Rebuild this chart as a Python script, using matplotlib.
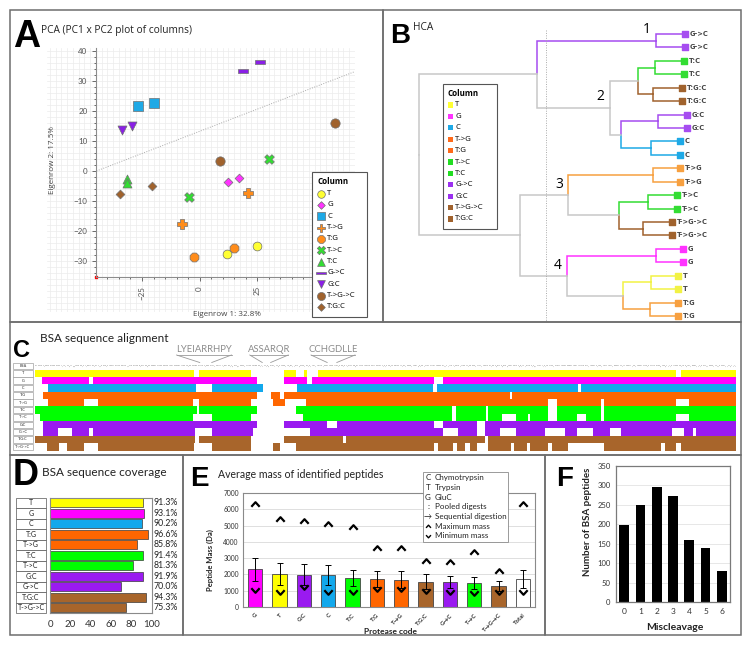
import numpy as np
import matplotlib.pyplot as plt
import matplotlib.transforms as mtransforms
from matplotlib.patches import Rectangle
from matplotlib.path import Path
from matplotlib.ticker import FixedLocator

plt.rcParams['font.family'] = ['Lato', 'DejaVu Sans']

# ---------------- data ----------------
groups = ['T', 'G', 'C', 'T->G', 'T:G', 'T->C', 'T:C', 'G->C', 'G:C', 'T->G->C', 'T:G:C']

# A: PCA scores (two replicate columns per digest)
pca_group = ['T', 'T', 'G', 'G', 'C', 'C', 'T->G', 'T->G', 'T:G', 'T:G', 'T->C', 'T->C',
             'T:C', 'T:C', 'G->C', 'G->C', 'G:C', 'G:C', 'T->G->C', 'T->G->C', 'T:G:C', 'T:G:C']
pca_x = [12.1, 25.1, 12.6, 17.0, -26.9, -19.6, 21.1, -7.4, -2.6, 15.0, 30.3, -4.6,
         -31.7, -31.6, 18.9, 26.4, -33.9, -29.3, 8.9, 58.9, -34.7, -20.6]
pca_y = [-27.6, -24.9, -3.5, -2.4, 21.6, 22.8, -7.2, -17.5, -28.5, -25.7, 3.9, -8.7,
         -2.8, -3.9, 33.4, 36.4, 13.6, 15.1, 3.4, 16.1, -7.5, -4.9]
trend_x0 = -44.8
trend_slope = 0.295

# B: HCA dendrogram (leaves top to bottom, merges like a linkage matrix)
leaf_order = ['G->C', 'G->C', 'T:C', 'T:C', 'T:G:C', 'T:G:C', 'G:C', 'G:C', 'C', 'C',
              'T->G', 'T->G', 'T->C', 'T->C', 'T->G->C', 'T->G->C', 'G', 'G', 'T', 'T', 'T:G', 'T:G']
merge_a = [0, 2, 4, 23, 6, 8, 26, 25, 22, 10, 12, 14, 32, 31, 16, 18, 20, 37, 36, 35, 30]
merge_b = [1, 3, 5, 24, 7, 9, 27, 28, 29, 11, 13, 15, 33, 34, 17, 19, 21, 38, 39, 40, 41]
merge_h = [0.126, 0.128, 0.135, 0.193, 0.117, 0.145, 0.256, 0.296, 0.566, 0.138, 0.154,
           0.172, 0.261, 0.452, 0.126, 0.145, 0.148, 0.249, 0.456, 0.628, 1.0]
leaf_tip = {'G->C': 0.018, 'T:C': 0.022, 'T:G:C': 0.031, 'G:C': 0.012, 'C': 0.037,
            'T->G': 0.037, 'T->C': 0.049, 'T->G->C': 0.066, 'G': 0.025, 'T': 0.043, 'T:G': 0.043}
cut_height = 0.533
cluster_names = ['1', '2', '3', '4']
cluster_d = [0.16, 0.332, 0.484, 0.489]
cluster_i = [-0.35, 4.67, 11.19, 17.27]

# C: sequence alignment (covered residue ranges of mature BSA, 583 aa)
bsa_seq = ("DTHKSEIAHRFKDLGEEHFKGLVLIAFSQYLQQCPFDEHVKLVNELTEFAKTCVADESHAGCEKSLHTLFGDELCKVASLRETYGDMADCC"
           "EKQEPERNECFLSHKDDSPDLPKLKPDPNTLCDEFKADEKKFWGKYLYEIARRHPYFYAPELLYYANKYNGVFQECCQAEDKGACLLPKIET"
           "MREKVLASSARQRLRCASIQKFGERALKAWSVARLSQKFPKAEFVEVTKLVTDLTKVHKECCHGDLLECADDRADLAKYICDNQDTISSKLKE"
           "CCDKPLLEKSHCIAEVEKDAIPENLPPLTADFAEDKDVCKNYQEAKDAFLGSFLYEYSRRHPEYAVSVLLRLAKEYEATLEECCAKDDPHACY"
           "STVFDKLKHLVDEPQNLIKQNCDQFEKLGEYGFQNALIVRYTRKVPQVSTPTLVEVSRSLGKVGTRCCTKPESERMPCTEDYLSLILNRLCVL"
           "HEKTPVSEKVTKCCTESLVNRRPCFSALTPDETYVPKAFDEKLFTFHADICTLPDTEKQIKKQTALVELLKHKPKATEEQLKTVMENFVAFVD"
           "KCCAADDKEACFAVEGPKLVVSTQTALA")
seq_len = 583
peptides = ['LYEIARRHPY', 'ASSARQR', 'CCHGDLLE']
peptide_label_x = [204, 269, 333]

cov_T = [(0, 132), (136, 180), (207, 217), (224, 226), (235, 533), (537, 583)]
cov_G = [(6, 45), (48, 185), (207, 226), (230, 332), (339, 583)]
cov_C = [(11, 134), (147, 190), (218, 331), (334, 452), (454, 583)]
cov_TG_pool = [(7, 185), (196, 204), (207, 395), (397, 583)]
cov_TG_seq = [(11, 41), (52, 131), (136, 180), (198, 208), (225, 427), (434, 471), (473, 533), (544, 583)]
cov_TC_pool = [(0, 135), (136, 185), (217, 347), (350, 375), (377, 427), (434, 471), (473, 583)]
cov_TC_seq = [(4, 131), (147, 180), (223, 347), (350, 375), (377, 388), (400, 410), (412, 427),
              (434, 451), (458, 471), (473, 533), (544, 583)]
cov_GC_pool = [(7, 185), (207, 243), (251, 332), (339, 368), (374, 583)]
cov_GC_seq = [(7, 19), (31, 45), (48, 133), (147, 181), (229, 339), (352, 368), (374, 387), (400, 424),
              (441, 451), (464, 478), (487, 530), (540, 547), (550, 583)]
cov_TGC_pool = [(0, 133), (136, 180), (207, 256), (259, 374), (377, 583)]
cov_TGC_seq = [(10, 20), (27, 41), (52, 132), (147, 180), (198, 204), (217, 332), (335, 348), (351, 358),
               (362, 368), (377, 396), (398, 409), (412, 427), (430, 443), (473, 521), (524, 533), (537, 583)]
align_rows = ['T', 'G', 'C', 'T:G', 'T->G', 'T:C', 'T->C', 'G:C', 'G->C', 'T:G:C', 'T->G->C']
align_cov = [cov_T, cov_G, cov_C, cov_TG_pool, cov_TG_seq, cov_TC_pool, cov_TC_seq,
             cov_GC_pool, cov_GC_seq, cov_TGC_pool, cov_TGC_seq]

# D: sequence coverage (%)
cov_labels = ['T', 'G', 'C', 'T:G', 'T->G', 'T:C', 'T->C', 'G:C', 'G->C', 'T:G:C', 'T->G->C']
cov_pct = [91.3, 93.1, 90.2, 96.6, 85.8, 91.4, 81.3, 91.9, 70.0, 94.3, 75.3]

# E: peptide mass (Da)
mass_groups = ['G', 'T', 'G:C', 'C', 'T:C', 'T:G', 'T->G', 'T:G:C', 'G->C', 'T->C', 'T->G->C', 'Total']
mass_mean = [2310, 2050, 1990, 1970, 1780, 1720, 1680, 1560, 1540, 1450, 1270, 1740]
mass_sd = [720, 670, 630, 610, 510, 490, 510, 465, 385, 370, 305, 550]
mass_max = [6300, 5380, 5280, 5070, 4910, 3620, 3620, 2800, 2760, 3370, 2210, 6300]
mass_min = [1060, 920, 1230, 920, 920, 1120, 1120, 980, 920, 880, 920, 920]

# F: miscleavages
miscleavage = [0, 1, 2, 3, 4, 5, 6]
n_peptides = [197, 249, 296, 274, 160, 139, 81]

# ---------------- colours ----------------
colA = {'T': '#ffff33', 'G': '#ff33ff', 'C': '#1ea9e6', 'T->G': '#ff8c1a', 'T:G': '#ff8c1a',
        'T->C': '#33dd33', 'T:C': '#33dd33', 'G->C': '#8a1fe6', 'G:C': '#8a1fe6',
        'T->G->C': '#a0622d', 'T:G:C': '#a0622d'}
legB = dict(colA, **{'T->G': '#ff6a1a', 'T:G': '#ff6a1a', 'G->C': '#9b30f0', 'G:C': '#9b30f0',
                     'T->C': '#22dd22', 'T:C': '#22dd22'})
treeB = dict(colA, **{'T->G': '#f7a040', 'T:G': '#f7a040', 'G->C': '#a64df0', 'G:C': '#a64df0',
                      'T': '#f2f244'})
colE = {'T': '#ffff00', 'G': '#ff00ff', 'C': '#12a8ec', 'T->G': '#ff6600', 'T:G': '#ff6600',
        'T->C': '#00ff00', 'T:C': '#00ff00', 'G->C': '#9a1af0', 'G:C': '#9a1af0',
        'T->G->C': '#a8652b', 'T:G:C': '#a8652b', 'Total': '#ffffff'}
bar_marker = [(-1, -0.28), (1, -0.28), (1, 0.28), (-1, 0.28), (-1, -0.28)]
styleA = {'T': ('o', 40), 'G': ('D', 20), 'C': ('s', 42), 'T->G': ('P', 50), 'T:G': ('8', 48),
          'T->C': ('X', 48), 'T:C': ('^', 42), 'G->C': (bar_marker, 60), 'G:C': ('v', 42),
          'T->G->C': ('o', 45), 'T:G:C': ('D', 20)}

# ---------------- figure ----------------
W, H = 750.0, 646.0
fig = plt.figure(figsize=(7.5, 6.46), dpi=100)


def rect(x0, y0, x1, y1):
    return [x0 / W, 1 - y1 / H, (x1 - x0) / W, (y1 - y0) / H]


canvas = fig.add_axes([0, 0, 1, 1], zorder=10)
canvas.set_xlim(0, W)
canvas.set_ylim(H, 0)
canvas.set_axis_off()

for x0, y0, x1, y1 in [(10, 10, 383, 322), (383, 10, 741, 322), (10, 322, 741, 455),
                       (10, 455, 183, 635), (183, 455, 545, 635), (545, 455, 741, 635)]:
    canvas.add_patch(Rectangle((x0, y0), x1 - x0, y1 - y0, fill=False, ec='#6e6e6e', lw=1.1))


def letter(x, y, s, size):
    canvas.text(x, y, s, fontsize=size, fontweight='bold', family='Liberation Sans',
                va='baseline', ha='left')


# ---- A: PCA ----
axA = fig.add_axes(rect(47, 48, 355, 312))
axA.set_xlim(-66.3, 67.6)
axA.set_ylim(-47, 41)
for v in np.arange(-65, 67.6, 2.5):
    axA.axvline(v, color='#ececec', lw=0.5, zorder=0)
for v in np.arange(-46, 41.1, 2):
    axA.axhline(v, color='#ececec', lw=0.5, zorder=0)
axA.spines[['top', 'right']].set_visible(False)
axA.spines['left'].set_position(('data', -44.8))
axA.spines['left'].set_bounds(-35.3, 41)
axA.spines['bottom'].set_position(('data', -35.3))
axA.spines['bottom'].set_bounds(-44.8, 67.6)
axA.spines[['left', 'bottom']].set_color('#8c8c8c')
axA.xaxis.set_major_locator(FixedLocator([-25, 0, 25]))
axA.xaxis.set_minor_locator(FixedLocator(np.arange(-40, 67.6, 5)))
axA.yaxis.set_major_locator(FixedLocator(np.arange(-30, 41, 10)))
axA.yaxis.set_minor_locator(FixedLocator(np.arange(-34, 41, 2)))
axA.tick_params(which='both', colors='#555555', labelsize=5.8, width=0.6, length=3)
axA.tick_params(which='minor', length=1.5)
axA.tick_params(axis='x', labelrotation=90)
xs = np.array([trend_x0, 67.6])
axA.plot(xs, trend_slope * (xs - trend_x0), ls=(0, (1, 1.5)), color='#aaaaaa', lw=0.7)
axA.plot([trend_x0], [-35.3], marker='s', ms=1.8, color='red', clip_on=False)
px = np.array(pca_x)
py = np.array(pca_y)
pg = np.array(pca_group)
for g in groups:
    m, s = styleA[g]
    sel = pg == g
    axA.scatter(px[sel], py[sel], marker=m, s=s, c=colA[g], edgecolors='#707070',
                linewidths=0.5, zorder=3)

letter(13, 47, 'A', 27)
canvas.text(41, 30, 'PCA (PC1 x PC2 plot of columns)', fontsize=7.3, family='Open Sans',
            va='center', color='#222222')
canvas.text(227, 315, 'Eigenrow 1: 32.8%', fontsize=5.8, family='Open Sans', ha='center',
            va='center', color='#444444')
canvas.text(53, 160, 'Eigenrow 2: 17.5%', fontsize=5.8, family='Open Sans', ha='center',
            va='center', rotation=90, color='#444444')

canvas.add_patch(Rectangle((312, 172), 55, 145, fc='white', ec='#555555', lw=0.8))
canvas.text(317, 182, 'Column', fontsize=5.8, fontweight='bold', family='Open Sans', va='center')
for k, g in enumerate(groups):
    y = 193.5 + 11.35 * k
    m, s = styleA[g]
    canvas.scatter([321], [y], marker=m, s=s * 0.75, c=colA[g], edgecolors='#707070',
                   linewidths=0.5)
    canvas.text(327, y, g, fontsize=5.6, family='Open Sans', va='center')

# ---- B: HCA ----
axB = fig.add_axes(rect(380, 10, 741, 322))
axB.set_xlim(1.1452, -0.1884)
axB.set_ylim(21.445, -1.787)
axB.set_axis_off()
node_y = list(range(len(leaf_order)))
node_h = [leaf_tip[g] for g in leaf_order]
node_c = [treeB[g] for g in leaf_order]
for a, b, h in zip(merge_a, merge_b, merge_h):
    ym = (node_y[a] + node_y[b]) / 2
    for ch in (a, b):
        axB.plot([node_h[ch], h, h], [node_y[ch], node_y[ch], ym], color=node_c[ch], lw=1.1,
                 solid_joinstyle='miter')
    node_y.append(ym)
    node_h.append(h)
    node_c.append(node_c[a] if node_c[a] == node_c[b] else '#c8c8c8')
axB.plot([cut_height, cut_height], [-0.3, 21.4], ls=(0, (1, 1.5)), color='#aaaaaa', lw=0.7)
for i, g in enumerate(leaf_order):
    axB.scatter([leaf_tip[g]], [i], marker='s', s=13, c=treeB[g], zorder=3)
    axB.text(leaf_tip[g] - 0.018, i, g, fontsize=4.8, fontweight='bold', family='DejaVu Sans',
             color='#444444', va='center', ha='left')
for name, d, i in zip(cluster_names, cluster_d, cluster_i):
    axB.text(d, i, name, fontsize=10, family='Open Sans', ha='center', va='center')

letter(390, 43, 'B', 20)
canvas.text(413, 28, 'HCA', fontsize=7.3, family='Open Sans', va='center', color='#222222')
canvas.add_patch(Rectangle((443, 84), 54, 145, fc='white', ec='#555555', lw=0.8))
canvas.text(447, 93.5, 'Column', fontsize=5.8, fontweight='bold', family='Open Sans', va='center')
for k, g in enumerate(groups):
    y = 105 + 11.4 * k
    canvas.add_patch(Rectangle((447.5, y - 2.6), 5.2, 5.2, fc=legB[g], ec='none'))
    canvas.text(455, y, g, fontsize=5.6, family='Open Sans', va='center')

# ---- C: alignment ----
axC = fig.add_axes(rect(35, 362.3, 736, 450.5))
axC.set_xlim(0, seq_len)
axC.set_ylim(11.5, -0.5)
axC.set_axis_off()
for i, (name, ivals) in enumerate(zip(align_rows, align_cov), start=1):
    axC.broken_barh([(s, e - s) for s, e in ivals], (i - 0.5, 1.0), facecolors=colE[name], lw=0)
step = seq_len / len(bsa_seq)
# one residue per alignment column, small enough that neighbours do not touch
seq_fs = 0.9 * (701 / len(bsa_seq)) / 0.602 * 0.72
for k, aa in enumerate(bsa_seq):
    axC.text((k + 0.5) * step, 0, aa, fontsize=seq_fs, family='DejaVu Sans Mono',
             ha='center', va='center', color='#7a7a7a')
for pep, lx in zip(peptides, peptide_label_x):
    start = bsa_seq.find(pep) * step
    end = start + len(pep) * step
    half = 2.75 * len(pep)
    canvas.text(lx, 349, pep, fontsize=6.8, color='#8c8c8c', ha='center', va='center')
    canvas.plot([lx - half, lx + half], [355, 355], color='#9a9a9a', lw=0.6)
    canvas.plot([lx - half, 35 + start * 701 / seq_len], [355, 362.5], color='#9a9a9a', lw=0.6)
    canvas.plot([lx + half, 35 + end * 701 / seq_len], [355, 362.5], color='#9a9a9a', lw=0.6)
for i, name in enumerate(['BSA'] + align_rows):
    y0 = 362.3 + 7.35 * i
    canvas.add_patch(Rectangle((13, y0 + 0.4), 20, 6.55, fc='white', ec='#8a8a8a', lw=0.4))
    canvas.text(23, y0 + 3.7, name, fontsize=2.8, ha='center', va='center', color='#333333')

letter(13, 357, 'C', 17)
canvas.text(40, 338, 'BSA sequence alignment', fontsize=8.5, va='center', color='#222222')

# ---- D: coverage ----
axD = fig.add_axes(rect(50, 497.5, 151.5, 613))
yD = np.arange(len(cov_labels))
axD.barh(yD, cov_pct, height=0.86, color=[colE[g] for g in cov_labels], edgecolor='#3a3a3a', lw=0.5)
axD.set_xlim(0, 100)
axD.set_ylim(len(cov_labels) - 0.5, -0.5)
axD.set_yticks([])
axD.set_xticks(np.arange(0, 101, 20))
axD.tick_params(axis='x', length=0, labelsize=7, pad=5, colors='#333333')
for s in axD.spines.values():
    s.set_color('#8a8a8a')
    s.set_linewidth(0.8)
trD = mtransforms.blended_transform_factory(axD.transAxes, axD.transData)
for i, p in enumerate(cov_pct):
    axD.text(1.02, i, f'{p:.1f}%', transform=trD, fontsize=6.3, va='center', color='#222222')
rowD = 115.5 / len(cov_labels)
for i, name in enumerate(cov_labels):
    y0 = 497.5 + rowD * i
    canvas.add_patch(Rectangle((16, y0), 30, rowD, fc='white', ec='#555555', lw=0.5))
    canvas.text(31, y0 + rowD / 2, name, fontsize=5, ha='center', va='center', color='#222222')
letter(13, 485, 'D', 26)
canvas.text(42, 472, 'BSA sequence coverage', fontsize=8.5, va='center', color='#222222')

# ---- E: peptide mass ----
axE = fig.add_axes(rect(243, 493, 535, 607))
xE = np.arange(len(mass_groups))
axE.bar(xE, mass_mean, width=0.6, color=[colE[g] for g in mass_groups], edgecolor='#444444',
        lw=0.6, yerr=mass_sd, error_kw=dict(elinewidth=0.7, capsize=2, capthick=0.7, ecolor='black'),
        zorder=2)
chev_up = Path([(-1, -0.55), (0, 0.55), (1, -0.55)], [Path.MOVETO, Path.LINETO, Path.LINETO])
chev_dn = Path([(-1, 0.55), (0, -0.55), (1, 0.55)], [Path.MOVETO, Path.LINETO, Path.LINETO])
axE.plot(xE, mass_max, ls='none', marker=chev_up, ms=6, mfc='none', mec='black', mew=1.6, zorder=3)
axE.plot(xE, mass_min, ls='none', marker=chev_dn, ms=6, mfc='none', mec='black', mew=1.6, zorder=3)
axE.set_xlim(-0.5, len(mass_groups) - 0.5)
axE.set_ylim(0, 7000)
axE.set_yticks(np.arange(0, 7001, 1000))
axE.yaxis.grid(True, color='#d9d9d9', lw=0.6)
axE.set_axisbelow(True)
axE.set_xticks(xE)
axE.set_xticklabels([g.replace('->', '→') for g in mass_groups], rotation=45, ha='right',
                    rotation_mode='anchor', fontsize=4.3, fontweight='bold')
axE.tick_params(length=0, colors='#333333')
axE.tick_params(axis='y', labelsize=4.8, pad=3)
axE.tick_params(axis='x', pad=4)
for s in axE.spines.values():
    s.set_color('#8a8a8a')
    s.set_linewidth(0.8)
canvas.text(210, 560, 'Peptide Mass (Da)', fontsize=5.5, fontweight='bold', rotation=90,
            ha='center', va='center', color='#222222')
canvas.text(390, 631, 'Protease code', fontsize=6, fontweight='bold', ha='center', va='center',
            color='#222222')
letter(190, 486, 'E', 20)
canvas.text(218, 475, 'Average mass of identified peptides', fontsize=7.6, va='center',
            color='#222222')
canvas.add_patch(Rectangle((423, 472), 85, 70, fc='white', ec='#8a8a8a', lw=0.6))
leg_sym = ['C', 'T', 'G', ':', '→', None, None]
leg_txt = ['Chymotrypsin', 'Trypsin', 'GluC', 'Pooled digests', 'Sequential digestion',
           'Maximum mass', 'Minimum mass']
for k, (sym, txt) in enumerate(zip(leg_sym, leg_txt)):
    y = 477.5 + 9.75 * k
    if sym is not None:
        canvas.text(428, y, sym, fontsize=5.8, ha='center', va='center', color='#222222')
    canvas.text(435, y, txt, fontsize=5.8, va='center', color='#222222')
canvas.plot([428], [477.5 + 9.75 * 5], ls='none', marker=chev_up, ms=3.5, mfc='none', mec='black', mew=1)
canvas.plot([428], [477.5 + 9.75 * 6], ls='none', marker=chev_dn, ms=3.5, mfc='none', mec='black', mew=1)

# ---- F: miscleavage ----
axF = fig.add_axes(rect(616, 466, 730, 602))
axF.bar(miscleavage, n_peptides, width=0.6, color='black', zorder=2)
axF.set_xlim(-0.5, 6.5)
axF.set_ylim(0, 350)
axF.set_yticks(np.arange(0, 351, 50))
axF.set_xticks(miscleavage)
axF.yaxis.grid(True, color='#e3e3e3', lw=0.6)
axF.set_axisbelow(True)
axF.tick_params(length=0, colors='#333333', labelsize=5.5, pad=4)
axF.tick_params(axis='x', labelsize=6)
for s in axF.spines.values():
    s.set_color('#7a7a7a')
    s.set_linewidth(0.9)
canvas.text(587, 522, 'Number of BSA peptides', fontsize=7, fontweight='bold', rotation=90,
            ha='center', va='center', color='#222222')
canvas.text(675, 627, 'Miscleavage', fontsize=7.5, fontweight='bold', ha='center', va='center',
            color='#222222')
letter(556, 486, 'F', 20)

fig.savefig('out.png', dpi=100)
